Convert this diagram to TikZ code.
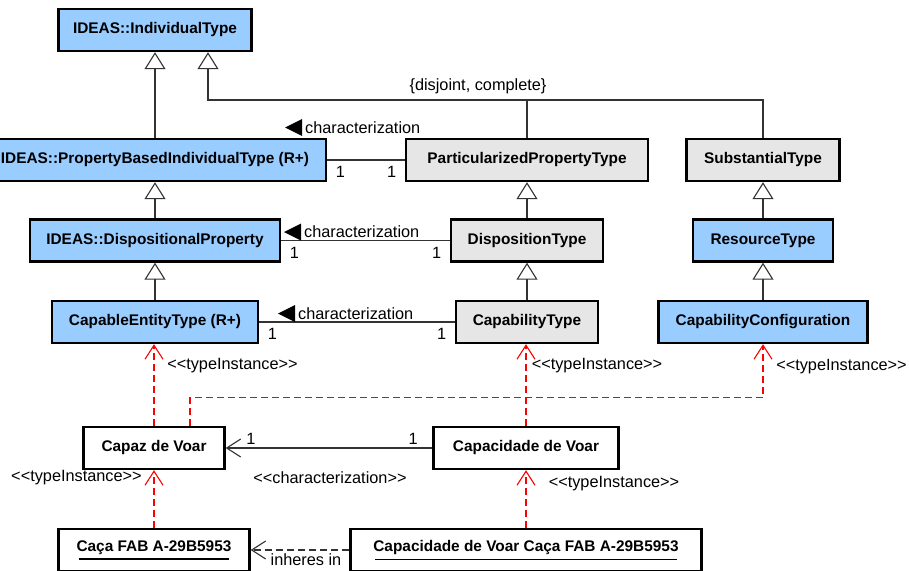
\documentclass[tikz,border=0pt]{standalone}
\usepackage{fontspec}
\setmainfont{Liberation Sans}
\usetikzlibrary{arrows.meta}
\definecolor{ideasblue}{RGB}{153,204,255}
\definecolor{kindgray}{RGB}{230,230,230}
\newcommand\instname[1]{\setbox0\hbox{#1}\vtop{\copy0\nointerlineskip\kern4pt\hbox to\wd0{\kern2pt\leaders\hrule height1.3pt\hfil\kern2pt}}}
\begin{document}
\begin{tikzpicture}[x=1pt,y=-1pt,
    cls/.style={draw,line width=2.4pt,minimum height=42pt,inner sep=0pt,font=\bfseries\fontsize{15.4}{18}\selectfont},
    ideas/.style={cls,fill=ideasblue},
    kind/.style={cls,fill=kindgray},
    instbox/.style={cls,fill=white},
    lbl/.style={inner sep=0pt,font=\fontsize{16.3}{18}\selectfont},
    multl/.style={lbl,anchor=north west,xshift=8pt,yshift=-6pt},
    multr/.style={lbl,anchor=north east,xshift=-8pt,yshift=-6pt},
    conn/.style={line width=1.1pt,draw=black!80},
    gen/.style={conn,-{Triangle[open,length=17pt,width=21pt]}},
    assocv/.style={conn,-{Straight Barb[length=14pt,width=18pt]}},
    inher/.style={assocv,dash pattern=on 7pt off 4pt},
    typeinst/.style={line width=1.1pt,draw=red,dash pattern=on 7pt off 4pt,-{Straight Barb[length=14pt,width=18pt]}}]
\useasboundingbox (0,0) rectangle (909,570);

\node[ideas,minimum width=193pt] (it) at (155,30) {IDEAS::IndividualType};
\node[ideas,minimum width=342pt] (pbit) at (155,160) {IDEAS::PropertyBasedIndividualType (R+)};
\node[ideas,minimum width=250pt] (dp) at (155,240.5) {IDEAS::DispositionalProperty};
\node[ideas,minimum width=206pt] (cet) at (155,322) {CapableEntityType (R+)};
\node[kind,minimum width=242pt] (ppt) at (527,160) {ParticularizedPropertyType};
\node[kind,minimum width=152pt] (dt) at (527,240.5) {DispositionType};
\node[kind,minimum width=142pt] (ct) at (527,322) {CapabilityType};
\node[kind,minimum width=153pt] (st) at (763,160) {SubstantialType};
\node[ideas,minimum width=140pt] (rt) at (763,240.5) {ResourceType};
\node[ideas,minimum width=209pt] (cc) at (763,322) {CapabilityConfiguration};
\node[instbox,minimum width=141pt] (caz) at (154,448) {Capaz de Voar};
\node[instbox,minimum width=185pt] (cdv) at (526,448) {Capacidade de Voar};
\node[instbox,minimum width=191pt] (caca) at (154,550) {\instname{Caça FAB A-29B5953}};
\node[instbox,minimum width=351pt] (cvc) at (526,550) {\instname{Capacidade de Voar Caça FAB A-29B5953}};

\draw[gen] (pbit) -- (it);
\draw[gen] (dp) -- (pbit);
\draw[gen] (cet) -- (dp);
\draw[gen] (dt) -- (ppt);
\draw[gen] (ct) -- (dt);
\draw[gen] (rt) -- (st);
\draw[gen] (cc) -- (rt);
\coordinate (gs) at (527,100);
\draw[conn] (ppt.north) -- (gs);
\draw[gen] (st.north) |- (gs) -| ([xshift=53pt]it.south);
\node[lbl] (dc) at (478,86) {\{disjoint, complete\}};

\draw[conn] (pbit) -- node[multl,at start]{1} node[multr,at end]{1} (ppt);
\draw[conn] (dp.east |- dt) -- node[multl,at start]{1} node[multr,at end]{1} (dt);
\draw[conn] (cet) -- node[multl,at start]{1} node[multr,at end]{1} (ct);
\node[lbl,anchor=west] (ch1) at (305,127.5) {characterization};
\node[lbl,anchor=west] (ch2) at (304,232) {characterization};
\node[lbl,anchor=west] (ch3) at (298,313.5) {characterization};
\foreach \c in {ch1,ch2,ch3}
    \fill ([xshift=-3pt]\c.west) ++(0,-8.5) -- ++(0,17) -- ++(-17,-8.5) -- cycle;

\draw[assocv] (cdv) -- node[lbl,at start,anchor=south east,xshift=-14pt,yshift=3pt]{1}
    node[lbl,at end,anchor=south west,xshift=20pt,yshift=3pt]{1} (caz);
\node[lbl] (chb) at (330,478) {<{}<characterization>{}>};
\draw[inher] (cvc) -- (caca);
\node[lbl] (inh) at (306,560) {inheres in};

\draw[typeinst] (caz.north) -- (caz.north |- cet.south);
\draw[typeinst] ([xshift=36pt]caz.north) -- ++(0,-28) -| (cc.south);
\draw[typeinst] (cdv.north) -- (cdv.north |- ct.south);
\draw[typeinst] (caca) -- (caz);
\draw[typeinst] (cvc) -- (cdv);
\node[lbl] (ti1) at (232.5,366) {<{}<typeInstance>{}>};
\node[lbl] (ti2) at (841.5,367) {<{}<typeInstance>{}>};
\node[lbl] (ti3) at (597,366) {<{}<typeInstance>{}>};
\node[lbl] (ti4) at (76.5,478) {<{}<typeInstance>{}>};
\node[lbl] (ti5) at (614,484) {<{}<typeInstance>{}>};
\end{tikzpicture}
\end{document}
